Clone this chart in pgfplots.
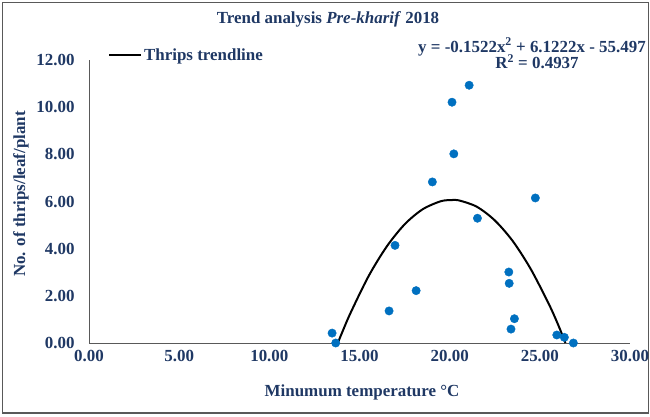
\documentclass[border=0pt]{standalone}
\usepackage{pgfplots}
\pgfplotsset{compat=1.18}
\usepackage{fontspec}
\setmainfont{Liberation Serif}
\definecolor{navy}{HTML}{1F3864}
\definecolor{dotblue}{HTML}{0070C0}
\newcommand{\bigf}{\fontsize{17}{20}\selectfont\bfseries}
\begin{document}
\begin{tikzpicture}[x=1bp,y=1bp]
\useasboundingbox (0,0) rectangle (650,416);
\draw[gray!70!black, line width=1.2bp] (2.5,3) rectangle (648.5,413.5);
\begin{axis}[
  at={(89bp,73bp)}, anchor=south west,
  scale only axis, width=541bp, height=283bp,
  xmin=0, xmax=30, ymin=0, ymax=12,
  xtick={0,5,...,30}, ytick={0,2,...,12},
  axis x line*=bottom, axis y line*=left,
  axis line style={draw=gray!70!black, -, line width=0.8bp},
  major tick length=0pt,
  /pgf/number format/assume math mode=true,
  /pgf/number format/fixed,
  /pgf/number format/fixed zerofill,
  /pgf/number format/precision=2,
  ticklabel style={font=\bigf, text=navy},
  xticklabel style={yshift=-4bp},
  yticklabel style={xshift=-11bp},
  clip=false,
  legend style={at={(rel axis cs:0.035,1.018)}, anchor=west, draw=none, fill=none,
    inner sep=0pt, font=\bigf, text=navy},
  legend image code/.code={\draw[#1] (0bp,0bp) -- (32bp,0bp);},
  legend cell align=left,
]
\addplot[only marks, mark=*, mark size=4.2bp, dotblue, forget plot] coordinates {
(21.08,10.93) (20.13,10.21) (20.23,8.02) (19.04,6.83) (24.75,6.15)
(21.54,5.29) (16.97,4.14) (23.28,3.01) (23.30,2.53) (18.14,2.22)
(16.64,1.36) (23.59,1.03) (23.40,0.59) (13.48,0.42) (13.68,0.00)
(25.94,0.34) (26.36,0.24) (26.86,0.00)
};
\addplot[black, line width=2bp, smooth] coordinates {
(13.80,0.00) (14.0,0.38) (14.5,1.27) (15.5,2.83) (16.5,4.08) (17.5,5.03)
(18.5,5.67) (19.5,6.01) (20.1,6.06) (20.5,6.05) (21.5,5.78) (22.5,5.20)
(23.5,4.32) (24.5,3.13) (25.5,1.65) (26.0,0.80) (26.42,0.00)
};
\addlegendentry{Thrips trendline}
\end{axis}
\node[font=\bigf, text=navy] at (328,397) {Trend analysis \textit{Pre-kharif} 2018};
\node[font=\bigf, text=navy, anchor=west, inner sep=0pt] at (418,369) {y = -0.1522x\textsuperscript{2} + 6.1222x - 55.497};
\node[font=\bigf, text=navy] at (537,354) {R\textsuperscript{2} = 0.4937};
\node[font=\bigf, text=navy, rotate=90] at (21,222) {No. of thrips/leaf/plant};
\node[font=\bigf, text=navy] at (362,24) {Minumum temperature °C};
\end{tikzpicture}
\end{document}
